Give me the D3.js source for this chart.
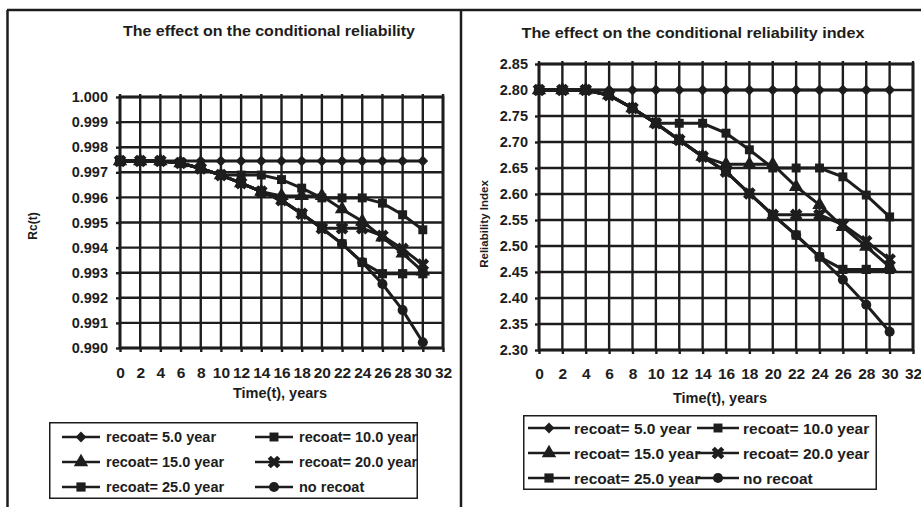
<!DOCTYPE html>
<html lang="en">
<head>
<meta charset="UTF-8">
<title>Effect of recoating on conditional reliability</title>
<script src="https://d3js.org/d3.v7.min.js"></script>
<style>
  body { margin: 0; background: #fff; }
  svg { display: block; font-family: 'Liberation Sans', Arial, sans-serif; font-weight: bold; }
  .grid line { stroke: #1d1d1d; stroke-width: 2.4; }
  .axis path { display: none; }
  .axis line { stroke: #1d1d1d; stroke-width: 2.4; }
  .axis text { fill: #1d1d1d; }
</style>
</head>
<body>
<svg id="chart" width="921" height="507"></svg>
<script>
const years = [0, 2, 4, 6, 8, 10, 12, 14, 16, 18, 20, 22, 24, 26, 28, 30];
const timeTicks = [0, 2, 4, 6, 8, 10, 12, 14, 16, 18, 20, 22, 24, 26, 28, 30, 32];
const relTicks = [1.000, 0.999, 0.998, 0.997, 0.996, 0.995, 0.994, 0.993, 0.992, 0.991, 0.990];
const betaTicks = [2.85, 2.80, 2.75, 2.70, 2.65, 2.60, 2.55, 2.50, 2.45, 2.40, 2.35, 2.30];
const seriesNames = ["recoat= 5.0 year", "recoat= 10.0 year", "recoat= 15.0 year",
  "recoat= 20.0 year", "recoat= 25.0 year", "no recoat"];

// conditional reliability Rc(t)
const relRecoat5 = [0.99745, 0.99745, 0.99745, 0.99745, 0.99745, 0.99745, 0.99745, 0.99745,
  0.99745, 0.99745, 0.99745, 0.99745, 0.99745, 0.99745, 0.99745, 0.99745];
const relRecoat10 = [0.99745, 0.99745, 0.99745, 0.99737, 0.99715, 0.99689, 0.99689, 0.99689,
  0.99671, 0.99637, 0.99598, 0.99598, 0.99598, 0.99577, 0.99531, 0.99471];
const relRecoat15 = [0.99745, 0.99745, 0.99745, 0.99737, 0.99715, 0.99689, 0.99657, 0.99623,
  0.99606, 0.99606, 0.99606, 0.99553, 0.99505, 0.99441, 0.99377, 0.99305];
const relRecoat20 = [0.99745, 0.99745, 0.99745, 0.99737, 0.99715, 0.99689, 0.99657, 0.99623,
  0.99589, 0.99535, 0.99477, 0.99477, 0.99477, 0.99447, 0.99395, 0.99332];
const relRecoat25 = [0.99745, 0.99745, 0.99745, 0.99737, 0.99715, 0.99689, 0.99657, 0.99623,
  0.99589, 0.99535, 0.99477, 0.99415, 0.99341, 0.99296, 0.99296, 0.99296];
const relNoRecoat = [0.99745, 0.99745, 0.99745, 0.99737, 0.99715, 0.99689, 0.99657, 0.99623,
  0.99589, 0.99535, 0.99477, 0.99415, 0.99341, 0.99255, 0.99151, 0.99023];

// conditional reliability index
const betaRecoat5 = [2.80, 2.80, 2.80, 2.80, 2.80, 2.80, 2.80, 2.80,
  2.80, 2.80, 2.80, 2.80, 2.80, 2.80, 2.80, 2.80];
const betaRecoat10 = [2.80, 2.80, 2.80, 2.79, 2.765, 2.736, 2.736, 2.736,
  2.717, 2.685, 2.65, 2.65, 2.65, 2.633, 2.598, 2.556];
const betaRecoat15 = [2.80, 2.80, 2.80, 2.79, 2.765, 2.736, 2.704, 2.672,
  2.657, 2.657, 2.657, 2.614, 2.579, 2.537, 2.499, 2.46];
const betaRecoat20 = [2.80, 2.80, 2.80, 2.79, 2.765, 2.736, 2.704, 2.672,
  2.643, 2.601, 2.56, 2.56, 2.56, 2.541, 2.509, 2.474];
const betaRecoat25 = [2.80, 2.80, 2.80, 2.79, 2.765, 2.736, 2.704, 2.672,
  2.643, 2.601, 2.56, 2.521, 2.479, 2.455, 2.455, 2.455];
const betaNoRecoat = [2.80, 2.80, 2.80, 2.79, 2.765, 2.736, 2.704, 2.672,
  2.643, 2.601, 2.56, 2.521, 2.479, 2.435, 2.387, 2.335];

const ink = "#1d1d1d";
const svg = d3.select("#chart");

// marker for each series, same order as seriesNames
const markers = [
  { type: d3.symbolSquare, size: 58, rotate: 45 },
  { type: d3.symbolSquare, size: 80, rotate: 0 },
  { type: d3.symbolTriangle, size: 90, rotate: 0 },
  { type: d3.symbolCross, size: 100, rotate: 45 },
  { type: d3.symbolSquare, size: 85, rotate: 0 },
  { type: d3.symbolCircle, size: 80, rotate: 0 }
];

// scanned page frame
svg.append("path")
  .attr("d", "M7,10H921M7.5,10V507M461,10V507")
  .attr("fill", "none")
  .attr("stroke", ink)
  .attr("stroke-width", 2.5);

function drawPanel(o) {
  const g = svg.append("g");
  const x = d3.scaleLinear().domain([0, 32]).range([o.left, o.right]);
  const y = d3.scaleLinear().domain(d3.extent(o.ticks)).range([o.bottom, o.top]);

  g.append("text")
    .attr("x", o.titleX).attr("y", o.titleY)
    .attr("text-anchor", "middle")
    .attr("textLength", o.titleW).attr("lengthAdjust", "spacingAndGlyphs")
    .style("font-size", "15px").attr("fill", ink)
    .text(o.title);

  const grid = g.append("g").attr("class", "grid");
  grid.selectAll(".v").data(timeTicks).join("line").attr("class", "v")
    .attr("x1", d => x(d)).attr("x2", d => x(d))
    .attr("y1", o.top - 3).attr("y2", o.bottom);
  grid.selectAll(".h").data(o.ticks).join("line").attr("class", "h")
    .attr("x1", o.left).attr("x2", o.right)
    .attr("y1", d => y(d)).attr("y2", d => y(d));
  g.append("rect")
    .attr("x", o.left).attr("y", o.top)
    .attr("width", o.right - o.left).attr("height", o.bottom - o.top)
    .attr("fill", "none").attr("stroke", ink).attr("stroke-width", 2.8);

  g.append("g").attr("class", "axis")
    .attr("transform", `translate(${o.left},0)`)
    .call(d3.axisLeft(y).tickValues(o.ticks).tickFormat(o.format).tickSize(4).tickPadding(o.yPad))
    .call(a => a.selectAll("text").style("font-size", "14.5px"));

  g.append("g").attr("class", "axis")
    .attr("transform", `translate(0,${o.bottom})`)
    .call(d3.axisBottom(x).tickValues(timeTicks).tickFormat(d3.format("d")).tickSize(4).tickPadding(o.xPad))
    .call(a => a.selectAll("text").style("font-size", "15.5px"));

  g.append("text")
    .attr("x", o.xTitleX).attr("y", o.xTitleY)
    .attr("text-anchor", "middle")
    .style("font-size", "14.5px").attr("fill", ink)
    .text("Time(t), years");

  g.append("text")
    .attr("transform", `translate(${o.yTitleX},${o.yTitleY}) rotate(-90)`)
    .attr("text-anchor", "middle")
    .style("font-size", o.yTitleFont).attr("fill", ink)
    .text(o.yTitle);

  const line = d3.line().x((d, i) => x(years[i])).y(d => y(d));
  const lines = g.append("g");
  o.series.forEach(s => {
    lines.append("path").datum(s)
      .attr("fill", "none").attr("stroke", ink).attr("stroke-width", 3)
      .attr("d", line);
  });
  o.series.forEach((s, k) => {
    const m = markers[k];
    lines.selectAll(null).data(s).join("path")
      .attr("transform", (d, i) => `translate(${x(years[i])},${y(d)}) rotate(${m.rotate})`)
      .attr("d", d3.symbol().type(m.type).size(m.size))
      .attr("fill", ink);
  });

  // legend
  const lg = o.legend;
  const clipId = "clip" + o.left;
  svg.append("clipPath").attr("id", clipId).append("rect")
    .attr("x", lg.x).attr("y", lg.y).attr("width", lg.w).attr("height", lg.h);
  const leg = g.append("g").attr("clip-path", `url(#${clipId})`);
  leg.append("rect")
    .attr("x", lg.x).attr("y", lg.y).attr("width", lg.w).attr("height", lg.h)
    .attr("fill", "#fff").attr("stroke", ink).attr("stroke-width", 3);
  seriesNames.forEach((name, k) => {
    const cx = lg.cols[k % 2];
    const cy = lg.rows[Math.floor(k / 2)];
    const m = markers[k];
    leg.append("line")
      .attr("x1", cx).attr("x2", cx + lg.lineW)
      .attr("y1", cy).attr("y2", cy)
      .attr("stroke", ink).attr("stroke-width", 2.5);
    leg.append("path")
      .attr("transform", `translate(${cx + lg.lineW / 2},${cy}) rotate(${m.rotate})`)
      .attr("d", d3.symbol().type(m.type).size(m.size))
      .attr("fill", ink);
    leg.append("text")
      .attr("x", cx + lg.lineW + lg.gap).attr("y", cy)
      .attr("dy", "0.36em")
      .style("font-size", lg.font).attr("fill", ink)
      .text(name);
  });
}

drawPanel({
  title: "The effect on the conditional reliability",
  titleX: 269, titleY: 36, titleW: 292,
  left: 120, right: 443, top: 97, bottom: 348,
  ticks: relTicks, format: d3.format(".3f"), yPad: 8, xPad: 15,
  xTitleX: 280, xTitleY: 398,
  yTitle: "Rc(t)", yTitleX: 37, yTitleY: 226, yTitleFont: "12px",
  series: [relRecoat5, relRecoat10, relRecoat15, relRecoat20, relRecoat25, relNoRecoat],
  legend: { x: 49, y: 422, w: 369, h: 77, cols: [62, 255], rows: [437, 462, 487],
    lineW: 38, gap: 6, font: "14.5px" }
});

drawPanel({
  title: "The effect on the conditional reliability index",
  titleX: 693, titleY: 38, titleW: 343,
  left: 539, right: 913, top: 64, bottom: 350,
  ticks: betaTicks, format: d3.format(".2f"), yPad: 7, xPad: 14,
  xTitleX: 720, xTitleY: 403,
  yTitle: "Reliability Index", yTitleX: 488, yTitleY: 224, yTitleFont: "11.5px",
  series: [betaRecoat5, betaRecoat10, betaRecoat15, betaRecoat20, betaRecoat25, betaNoRecoat],
  legend: { x: 523, y: 415, w: 354, h: 75, cols: [528, 697], rows: [428, 453, 478],
    lineW: 42, gap: 4, font: "15.5px" }
});
</script>
</body>
</html>
